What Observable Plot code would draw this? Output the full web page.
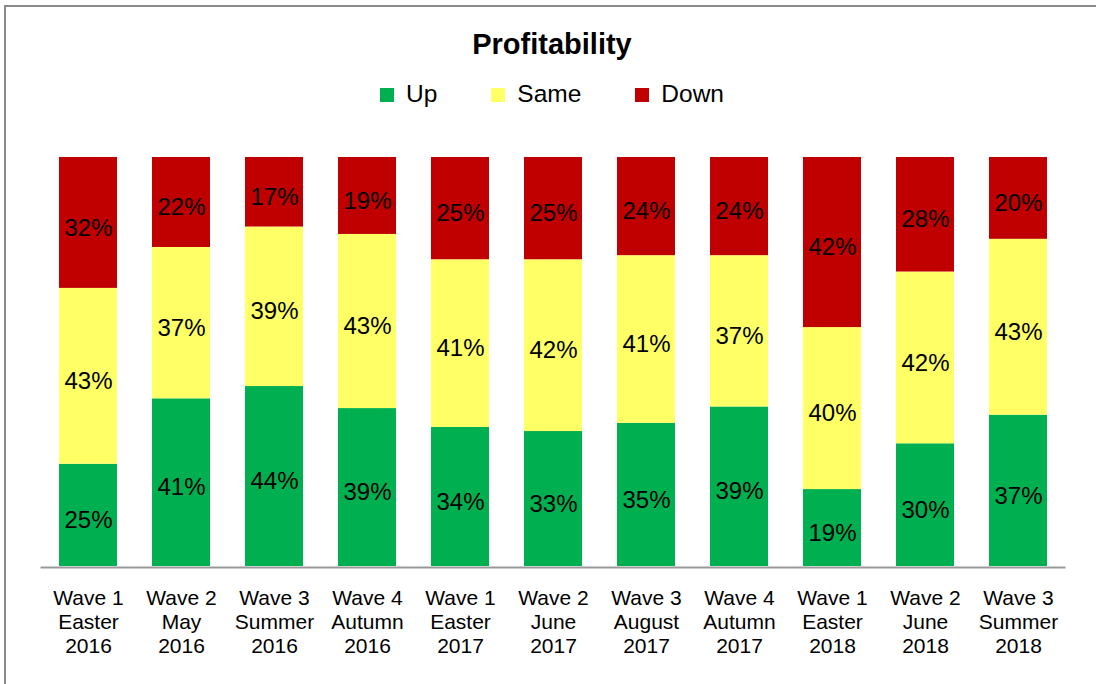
<!DOCTYPE html>
<html>
<head>
<meta charset="utf-8">
<script src="https://cdn.jsdelivr.net/npm/d3@7"></script>
<script src="https://cdn.jsdelivr.net/npm/@observablehq/plot@0.6"></script>
<style>
  html, body { margin: 0; padding: 0; background: #fff; }
  body { font-family: "Liberation Sans", Arial, sans-serif; color: #000; }
  #wrap { position: relative; width: 1096px; height: 684px; overflow: hidden; }
  #frame { position: absolute; left: 4px; top: 5px; width: 1200px; height: 800px; border: 2px solid #8a8a8a; box-sizing: border-box; }
  #header { position: relative; height: 140px; }
  #title { position: absolute; left: 4px; width: 1096px; top: 30px; text-align: center; font-size: 29px; line-height: 29px; font-weight: bold; }
  #legend { position: absolute; left: 4px; width: 1096px; top: 82px; display: flex; justify-content: center; font-size: 24.5px; line-height: 24px; }
  .item { display: flex; align-items: center; margin: 0 27px; }
  .sw { width: 14px; height: 14px; margin-right: 12px; margin-top: 2px; }
  #chart { position: relative; }
</style>
</head>
<body>
<div id="wrap">
  <div id="frame"></div>
  <div id="header">
    <div id="title"></div>
    <div id="legend"></div>
  </div>
  <div id="chart"></div>
</div>
<script>
const title = "Profitability";
const waves = ["Wave 1", "Wave 2", "Wave 3", "Wave 4", "Wave 1", "Wave 2", "Wave 3", "Wave 4", "Wave 1", "Wave 2", "Wave 3"];
const periods = ["Easter", "May", "Summer", "Autumn", "Easter", "June", "August", "Autumn", "Easter", "June", "Summer"];
const years = ["2016", "2016", "2016", "2016", "2017", "2017", "2017", "2017", "2018", "2018", "2018"];
const series = ["Up", "Same", "Down"];
const colors = ["#00B050", "#FFFF66", "#C00000"];
const up   = [25, 41, 44, 39, 34, 33, 35, 39, 19, 30, 37];
const same = [43, 37, 39, 43, 41, 42, 41, 37, 40, 42, 43];
const down = [32, 22, 17, 19, 25, 25, 24, 24, 42, 28, 20];

const labels = waves.map((w, i) => `${w}\n${periods[i]}\n${years[i]}`);
const valuesBySeries = {Up: up, Same: same, Down: down};
const data = [];
labels.forEach((lab, i) => {
  series.forEach(s => data.push({label: lab, series: s, value: valuesBySeries[s][i]}));
});

document.getElementById("title").textContent = title;
const legend = document.getElementById("legend");
series.forEach((s, i) => {
  const item = document.createElement("div");
  item.className = "item";
  const sw = document.createElement("span");
  sw.className = "sw";
  sw.style.background = colors[i];
  const t = document.createElement("span");
  t.textContent = s;
  item.appendChild(sw);
  item.appendChild(t);
  legend.appendChild(item);
});

const stackOpts = {offset: "normalize", order: series};

const chart = Plot.plot({
  width: 1096,
  height: 544,
  marginLeft: 40.5,
  marginRight: 30.5,
  marginTop: 17,
  marginBottom: 118,
  style: {fontFamily: "'Liberation Sans', Arial, sans-serif", color: "#000", background: "transparent"},
  x: {domain: labels, paddingInner: 0.378, paddingOuter: 0.189, axis: null},
  y: {domain: [0, 1], axis: null},
  color: {domain: series, range: colors},
  marks: [
    Plot.barY(data, Plot.stackY(stackOpts, {x: "label", y: "value", z: "series", fill: "series"})),
    Plot.text(data, Plot.stackY(stackOpts, {x: "label", y: "value", z: "series", text: d => d.value + "%", fontSize: 24, fill: "#000", dy: 5})),
    Plot.ruleY([0], {stroke: "#999", strokeWidth: 2, dy: 1}),
    Plot.axisX({tickSize: 0, tickPadding: 22, fontSize: 21, lineHeight: 1.13, fill: "#000", label: null, tickFormat: d => d})
  ]
});
document.getElementById("chart").appendChild(chart);
</script>
</body>
</html>
